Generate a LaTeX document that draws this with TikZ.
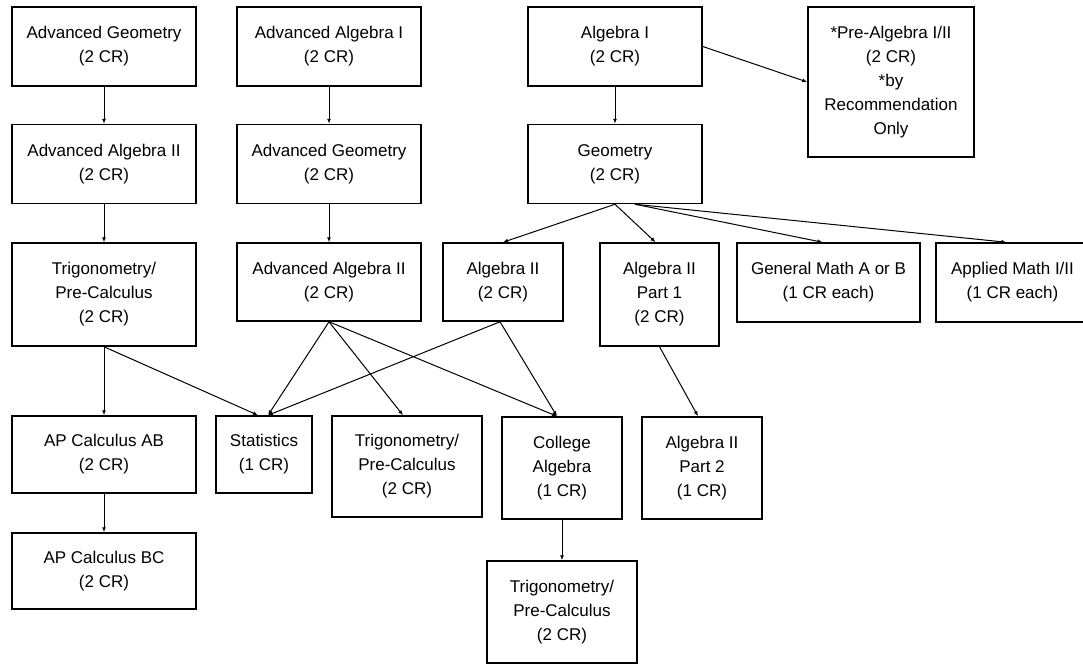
\documentclass[tikz,border=0pt]{standalone}
\usepackage{fontspec}
\setmainfont{Liberation Sans}
\usetikzlibrary{arrows.meta,positioning}

\begin{document}
\begin{tikzpicture}[x=1pt, y=-1pt, >={Latex[length=5pt,width=4pt]}]
    % Define styles
    \tikzset{
        box/.style={rectangle, draw=black, line width=1.5pt, inner sep=0pt, align=center,
            font=\fontsize{17}{24}\selectfont, minimum width=184pt, minimum height=79pt},
        narrow/.style={box, minimum width=120pt},
        tall/.style={minimum height=103pt},
        arr/.style={->, line width=1pt}
    }
    \clip (0,0) rectangle (1083,664);

    % Components
    \node[box] (advgeo) at (104,46.5) {Advanced Geometry\\(2 CR)};
    \node[box] (advalgtwo) at (104,164) {Advanced Algebra II\\(2 CR)};
    \node[box, tall] (trig) at (104,294.5) {Trigonometry/\\Pre-Calculus\\(2 CR)};
    \node[box, minimum height=77pt] (calcab) at (104,454.5) {AP Calculus AB\\(2 CR)};
    \node[box, minimum height=76pt] (calcbc) at (104,571) {AP Calculus BC\\(2 CR)};

    \node[box] (advalgone) at (329,46.5) {Advanced Algebra I\\(2 CR)};
    \node[box] (advgeob) at (329,164) {Advanced Geometry\\(2 CR)};
    \node[box, minimum height=78pt] (advalgtwob) at (329,282) {Advanced Algebra II\\(2 CR)};

    \node[box, minimum width=174pt] (algone) at (615,46.5) {Algebra I\\(2 CR)};
    \node[box, minimum width=174pt] (geo) at (615,164) {Geometry\\(2 CR)};
    \node[box, minimum width=166pt, minimum height=150pt] (prealg) at (891,82)
        {*Pre-Algebra I/II\\(2 CR)\\*by\\Recommendation\\Only};

    \node[narrow, minimum height=78pt] (algtwo) at (503,282) {Algebra II\\(2 CR)};
    \node[narrow, tall, minimum width=119pt] (partone) at (659.5,294.5) {Algebra II\\Part 1\\(2 CR)};
    \node[box, minimum width=183pt] (genmath) at (828.5,282.5) {General Math A or B\\(1 CR each)};
    \node[box, minimum width=153pt] (appmath) at (1012.5,282.5) {Applied Math I/II\\(1 CR each)};

    \node[box, minimum width=96pt, minimum height=77pt] (stats) at (264,454.5) {Statistics\\(1 CR)};
    \node[box, minimum width=150pt, minimum height=101pt] (trigb) at (407,466.5) {Trigonometry/\\Pre-Calculus\\(2 CR)};
    \node[narrow, minimum height=102pt] (college) at (562,468) {College\\Algebra\\(1 CR)};
    \node[narrow, minimum height=102pt] (parttwo) at (702,468) {Algebra II\\Part 2\\(1 CR)};
    \node[box, minimum width=150pt, minimum height=102pt] (trigc) at (562,612) {Trigonometry/\\Pre-Calculus\\(2 CR)};

    % Arrows
    \draw[arr] (advgeo) -- (advalgtwo);
    \draw[arr] (advalgtwo) -- (trig);
    \draw[arr] (trig) -- (calcab);
    \draw[arr] (calcab) -- (calcbc);
    \draw[arr] (trig.south) -- ([xshift=-6pt]stats.north);

    \draw[arr] (advalgone) -- (advgeob);
    \draw[arr] (advgeob) -- (advalgtwob);
    \draw[arr] (advalgtwob.south) -- ([xshift=4pt]stats.north);
    \draw[arr] (advalgtwob.south) -- ([xshift=-4pt]trigb.north);
    \draw[arr] (advalgtwob.south) -- ([xshift=-5pt]college.north);

    \draw[arr] (algone) -- (geo);
    \draw[arr] (algone.east) -- (prealg.west);
    \draw[arr] (geo.south) -- (algtwo.north);
    \draw[arr] (geo.south) -- ([xshift=-4pt]partone.north);
    \draw[arr] ([xshift=20pt]geo.south) -- ([xshift=-6pt]genmath.north);
    \draw[arr] ([xshift=20pt]geo.south) -- ([xshift=-6pt]appmath.north);

    \draw[arr] ([xshift=-3pt]algtwo.south) -- ([xshift=4pt]stats.north);
    \draw[arr] ([xshift=-3pt]algtwo.south) -- ([xshift=-5pt]college.north);
    \draw[arr] (partone.south) -- ([xshift=-4pt]parttwo.north);
    \draw[arr] (college) -- (trigc);
\end{tikzpicture}
\end{document}
